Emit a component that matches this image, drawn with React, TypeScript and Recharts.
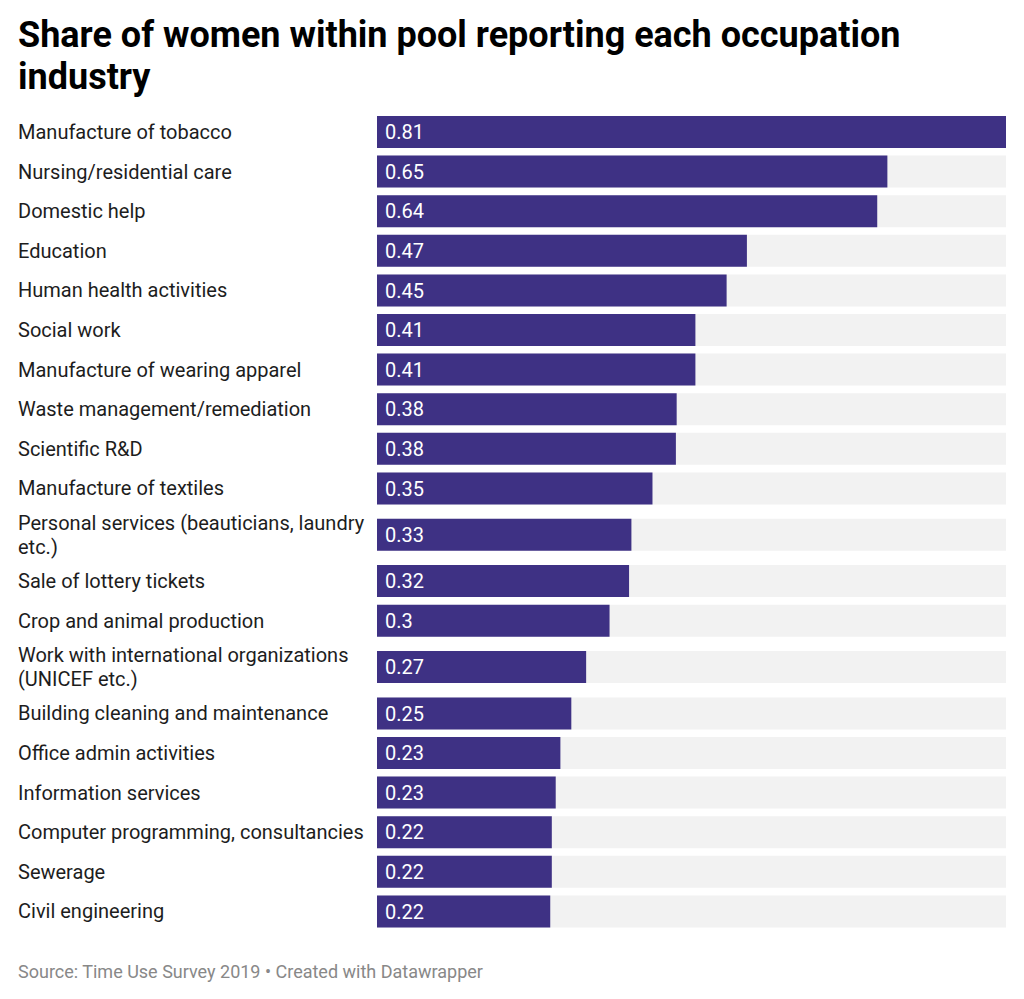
import React from 'react';
import { BarChart, Bar, XAxis, YAxis, LabelList } from 'recharts';

// industries, top to bottom
const categories = [
  'Manufacture of tobacco',
  'Nursing/residential care',
  'Domestic help',
  'Education',
  'Human health activities',
  'Social work',
  'Manufacture of wearing apparel',
  'Waste management/remediation',
  'Scientific R&D',
  'Manufacture of textiles',
  'Personal services (beauticians, laundry etc.)',
  'Sale of lottery tickets',
  'Crop and animal production',
  'Work with international organizations (UNICEF etc.)',
  'Building cleaning and maintenance',
  'Office admin activities',
  'Information services',
  'Computer programming, consultancies',
  'Sewerage',
  'Civil engineering',
];

// share of women (labels are rounded)
const shares = [
  0.806, 0.654, 0.641, 0.474, 0.448, 0.408, 0.408, 0.384, 0.383, 0.353,
  0.326, 0.323, 0.298, 0.268, 0.249, 0.235, 0.229, 0.224, 0.224, 0.222,
];

const TITLE = 'Share of women within pool reporting each occupation industry';
const SOURCE = 'Source: Time Use Survey 2019 • Created with Datawrapper';

const FONT = 'Roboto, "Noto Sans", sans-serif';
const BAR_COLOR = '#3e3184';
const TRACK_COLOR = '#f2f2f2';
const ROW_PX = 39.6;
const EXTRA_LINE_PX = 13.5;
const LINE_PX = 24;
const LABEL_WIDTH = 360;
const LABEL_SIZE = 20;

let measureCtx: CanvasRenderingContext2D | null = null;

function wrapLabel(text: string, maxWidth: number): string[] {
  if (!measureCtx) {
    measureCtx = document.createElement('canvas').getContext('2d');
  }
  if (!measureCtx) return [text];
  measureCtx.font = `${LABEL_SIZE}px ${FONT}`;
  const words = text.split(' ');
  const lines: string[] = [];
  let current = '';
  words.forEach((w) => {
    const next = current ? `${current} ${w}` : w;
    if (current && measureCtx!.measureText(next).width > maxWidth) {
      lines.push(current);
      current = w;
    } else {
      current = next;
    }
  });
  if (current) lines.push(current);
  return lines;
}

// rows with wrapped labels get a little more room
let offset = 0;
const data = categories.map((name, i) => {
  const lines = wrapLabel(name, LABEL_WIDTH);
  const rowHeight = ROW_PX + (lines.length - 1) * EXTRA_LINE_PX;
  const pos = offset + rowHeight / 2;
  offset += rowHeight;
  return { name, share: shares[i], lines, pos };
});
const plotHeight = offset;

const formatShare = (v: number) => String(Number(v.toFixed(2)));

const CategoryTick = (props: any) => {
  const { y, payload } = props;
  const row = data.find((d) => Math.abs(d.pos - payload.value) < 0.01);
  if (!row) return null;
  const first = y - ((row.lines.length - 1) * LINE_PX) / 2 + 7.1;
  return (
    <text x={10} y={first} fill="#1d1d1d" fontSize={LABEL_SIZE} fontFamily={FONT} textAnchor="start">
      {row.lines.map((line, i) => (
        <tspan key={i} x={10} y={first + i * LINE_PX}>
          {line}
        </tspan>
      ))}
    </text>
  );
};

export default function App() {
  return (
    <div
      style={{
        position: 'relative',
        width: 1008,
        height: 983,
        fontFamily: FONT,
        background: '#fff',
        overflow: 'hidden',
      }}
    >
      <div
        style={{
          position: 'absolute',
          left: 10,
          top: 6,
          width: 960,
          fontSize: 36,
          fontWeight: 700,
          lineHeight: '42px',
          color: '#000',
        }}
      >
        {TITLE}
      </div>
      <div style={{ position: 'absolute', left: 0, top: 104 }}>
        <BarChart
          layout="vertical"
          width={998}
          height={plotHeight}
          data={data}
          margin={{ top: 0, right: 0, bottom: 0, left: 0 }}
        >
          <XAxis type="number" hide domain={[0, 'dataMax']} />
          <YAxis
            type="number"
            dataKey="pos"
            domain={[0, plotHeight]}
            ticks={data.map((d) => d.pos)}
            interval={0}
            width={369}
            axisLine={false}
            tickLine={false}
            tick={<CategoryTick />}
            allowDataOverflow
          />
          <Bar
            dataKey="share"
            fill={BAR_COLOR}
            barSize={32}
            background={{ fill: TRACK_COLOR }}
            isAnimationActive={false}
          >
            <LabelList
              dataKey="share"
              position="insideLeft"
              offset={8}
              fill="#ffffff"
              fontSize={LABEL_SIZE}
              fontFamily={FONT}
              formatter={(v: any) => formatShare(Number(v))}
            />
          </Bar>
        </BarChart>
      </div>
      <div
        style={{
          position: 'absolute',
          left: 10,
          top: 953,
          fontSize: 18,
          lineHeight: '22px',
          color: '#888',
        }}
      >
        {SOURCE}
      </div>
    </div>
  );
}
